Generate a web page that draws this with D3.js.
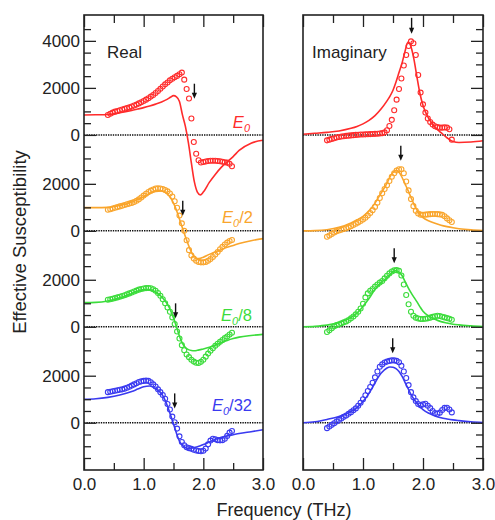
<!DOCTYPE html>
<html><head><meta charset="utf-8">
<script src="https://cdn.jsdelivr.net/npm/d3@7"></script>
<style>
body{margin:0;background:#fff;}
svg{display:block;font-family:"Liberation Sans",Arial,Helvetica,sans-serif;}
</style>
</head><body>
<svg id="c" width="495" height="520"></svg>
<script>
// ---------- DATA ----------
const seriesNames = ["E0", "E0/2", "E0/8", "E0/32"];
const seriesColors = ["#ff2b2b", "#f9a52c", "#3bdc3b", "#3a3af0"];

// model (solid line) frequencies, THz
const fitFreq = [0,0.2,0.4,0.6,0.8,0.9,1.0,1.1,1.2,1.3,1.4,1.45,1.5,1.55,1.6,1.65,1.7,1.75,1.8,1.85,1.9,1.95,2.0,2.1,2.2,2.3,2.4,2.5,2.6,2.8,3.0];
const realFit0 = [850,855,870,940,1040,1100,1160,1230,1310,1400,1520,1600,1670,1620,1420,850,350,-340,-1200,-2000,-2430,-2550,-2430,-2020,-1680,-1380,-1150,-920,-660,-350,-230];
const realFit1 = [990,990,1000,1080,1220,1330,1450,1580,1680,1700,1560,1420,1180,880,500,120,-250,-600,-900,-1100,-1180,-1170,-1120,-1000,-900,-800,-700,-620,-540,-420,-330];
const realFit2 = [1030,1040,1100,1230,1420,1520,1580,1580,1470,1280,950,700,380,0,-400,-700,-880,-970,-1010,-1020,-1000,-970,-940,-870,-780,-680,-580,-500,-440,-370,-320];
const realFit3 = [1000,1020,1080,1180,1330,1430,1530,1560,1450,1230,700,330,-50,-450,-780,-960,-1060,-1090,-1080,-1050,-1020,-980,-930,-820,-710,-620,-560,-510,-460,-380,-300];
const imagFit0 = [30,70,110,170,280,360,470,620,820,1100,1450,1650,1900,2250,2650,3050,3550,3950,3750,3200,2450,1750,1250,680,330,100,-120,-280,-320,-300,-250];
const imagFit1 = [0,10,50,150,340,470,620,850,1180,1600,2030,2300,2480,2580,2500,2280,2000,1720,1420,1130,880,680,560,420,320,240,180,130,90,40,15];
const imagFit2 = [0,20,70,180,400,580,870,1200,1600,1880,2080,2220,2350,2390,2330,2180,1930,1680,1450,1250,1060,850,660,450,320,220,160,110,80,40,10];
const imagFit3 = [0,40,140,270,480,640,900,1250,1700,2100,2330,2370,2360,2300,2180,1980,1720,1460,1200,1000,830,680,560,400,290,210,160,120,90,40,10];

// measured (circles) frequencies, THz
const dataFreq = [0.40,0.44,0.48,0.52,0.56,0.60,0.64,0.68,0.72,0.76,0.80,0.84,0.88,0.92,0.96,1.00,1.04,1.08,1.12,1.16,1.20,1.24,1.28,1.32,1.36,1.40,1.44,1.48,1.52,1.56,1.60,1.64,1.68,1.72,1.76,1.80,1.84,1.88,1.92,1.96,2.00,2.04,2.08,2.12,2.16,2.20,2.24,2.28,2.32,2.36,2.40,2.44,2.48];
const realData0 = [850,900,950,990,1020,1050,1080,1110,1140,1170,1210,1250,1290,1340,1390,1440,1500,1560,1630,1700,1780,1870,1960,2060,2150,2230,2320,2390,2450,2510,2580,2650,2350,1950,1550,700,-300,-800,-1080,-1170,-1150,-1130,-1110,-1100,-1100,-1100,-1110,-1120,-1140,-1160,-1180,-1230,-1330];
const realData1 = [900,920,950,980,1010,1040,1070,1100,1130,1160,1190,1230,1280,1340,1420,1500,1580,1650,1710,1760,1800,1810,1800,1780,1740,1680,1590,1460,1260,980,650,320,0,-400,-820,-1050,-1180,-1270,-1320,-1340,-1340,-1320,-1270,-1200,-1110,-1010,-900,-780,-680,-580,-500,-430,-390];
const realData2 = [1150,1170,1190,1220,1250,1280,1310,1340,1380,1420,1460,1500,1540,1580,1610,1630,1645,1650,1640,1600,1530,1440,1320,1170,1000,820,640,400,120,-200,-500,-780,-1000,-1180,-1290,-1400,-1480,-1530,-1540,-1490,-1400,-1270,-1140,-1020,-910,-810,-720,-640,-560,-480,-410,-330,-250];
const realData3 = [1300,1320,1340,1360,1380,1400,1420,1450,1490,1530,1580,1630,1680,1730,1760,1780,1790,1780,1720,1630,1540,1420,1300,1180,1020,800,560,260,20,-250,-580,-820,-960,-1040,-1080,-1110,-1150,-1180,-1200,-1210,-1190,-1100,-920,-760,-680,-700,-740,-750,-740,-680,-560,-420,-350];
const imagData0 = [-230,-200,-170,-140,-110,-90,-70,-55,-40,-30,-20,-10,0,10,15,20,25,30,35,40,45,50,60,75,110,200,380,640,1050,1500,1950,2400,2950,3400,3780,3980,3900,3400,2550,1800,1300,950,700,550,440,370,330,310,310,320,310,240,-200];
const imagData1 = [-250,-200,-130,-70,-20,20,50,80,110,150,200,250,300,360,420,480,560,650,760,880,1020,1200,1400,1600,1780,1940,2120,2300,2450,2570,2620,2620,2450,2100,1720,1350,1050,850,740,690,680,690,700,710,720,720,710,700,680,620,530,450,380];
const imagData2 = [-220,-150,-60,20,70,110,150,190,230,290,360,440,530,640,780,980,1250,1420,1530,1610,1710,1800,1880,1950,2060,2170,2270,2350,2400,2410,2380,2180,1800,1350,960,640,470,390,350,330,330,340,360,390,420,450,470,460,430,400,370,340,300];
const imagData3 = [-230,-160,-90,-20,50,120,180,250,310,380,450,530,610,720,850,1000,1170,1350,1520,1700,1930,2180,2380,2480,2560,2600,2630,2650,2650,2630,2570,2420,2180,1900,1600,1300,1080,920,800,740,780,810,720,620,500,410,380,430,540,630,640,560,440];

// resonance arrows (frequency, value at arrow tip)
const arrowRealFreq = [1.85, 1.655, 1.535, 1.52];
const arrowRealTip  = [1540, 640, 360, 610];
const arrowImagFreq = [1.81, 1.63, 1.52, 1.495];
const arrowImagTip  = [4300, 2985, 2700, 2950];

// axis ticks
const xTicksMajor = [0, 1, 2, 3];
const xTicksMinor = [0.5, 1.5, 2.5];
const yLabelsTop = [0, 2000, 4000];
const yLabelsOther = [0, 2000];
const yMajorTop = [0, 2000, 4000];
const yMajorOther = [0, 2000];
const yMinorTop = [-1500,-1000,-500,500,1000,1500,2500,3000,3500,4500];
const yMinorOther = [-1500,-1000,-500,500,1000,1500];
const panelOffset = 4080;

// ---------- DRAW ----------
const realFits = [realFit0, realFit1, realFit2, realFit3];
const imagFits = [imagFit0, imagFit1, imagFit2, imagFit3];
const realDatas = [realData0, realData1, realData2, realData3];
const imagDatas = [imagData0, imagData1, imagData2, imagData3];

const svg = d3.select("#c");
const yTop = 15, yBottom = 470;
const xL = d3.scaleLinear().domain([0, 3]).range([84, 263]);
const xR = d3.scaleLinear().domain([0, 3]).range([303, 483]);
const y = d3.scaleLinear().domain([-14250, 5100]).range([yBottom, yTop]);
const off = i => -i * panelOffset;
const ink = "#222";

let majG = [], minG = [], labG = [], labText = new Map();
for (let i = 0; i < 4; i++) {
  (i === 0 ? yMajorTop : yMajorOther).forEach(v => majG.push(v + off(i)));
  (i === 0 ? yMinorTop : yMinorOther).forEach(v => minG.push(v + off(i)));
  (i === 0 ? yLabelsTop : yLabelsOther).forEach(v => { labG.push(v + off(i)); labText.set(v + off(i), String(v)); });
}

function strip(g) { g.select(".domain").remove(); g.selectAll("line").attr("stroke", ink).attr("stroke-width", 1.3); }

// zero lines
[xL, xR].forEach(xs => {
  for (let i = 0; i < 4; i++) {
    svg.append("line")
      .attr("x1", xs.range()[0]).attr("x2", xs.range()[1])
      .attr("y1", y(off(i))).attr("y2", y(off(i)))
      .attr("stroke", "#111").attr("stroke-width", 1.5)
      .attr("stroke-dasharray", "1.4,1");
  }
});

// curves and circles
function drawSet(xs, fits, datas) {
  for (let i = 0; i < 4; i++) {
    const c = seriesColors[i];
    const line = d3.line().x(d => xs(d[0])).y(d => y(d[1] + off(i))).curve(d3.curveMonotoneX);
    svg.append("path").datum(fitFreq.map((f, k) => [f, fits[i][k]]))
      .attr("d", line).attr("fill", "none").attr("stroke", c).attr("stroke-width", 1.6);
    svg.append("g").selectAll("circle").data(dataFreq.map((f, k) => [f, datas[i][k]]))
      .join("circle")
      .attr("cx", d => xs(d[0])).attr("cy", d => y(d[1] + off(i))).attr("r", 2.5)
      .attr("fill", "none").attr("stroke", c).attr("stroke-width", 1.1);
  }
}
drawSet(xL, realFits, realDatas);
drawSet(xR, imagFits, imagDatas);

// arrows
function arrow(xs, f, v, i, len) {
  const ax = xs(f), ty = y(v + off(i));
  svg.append("line").attr("x1", ax).attr("x2", ax).attr("y1", ty - len).attr("y2", ty - 5)
    .attr("stroke", "#111").attr("stroke-width", 1.4);
  svg.append("path").attr("d", `M${ax - 2.6},${ty - 6}L${ax + 2.6},${ty - 6}L${ax},${ty}Z`).attr("fill", "#111");
}
for (let i = 0; i < 4; i++) {
  arrow(xL, arrowRealFreq[i], arrowRealTip[i], i, 15);
  arrow(xR, arrowImagFreq[i], arrowImagTip[i], i, i === 0 ? 16 : 15);
}

// axes: bottom & top (ticks inward)
[xL, xR].forEach(xs => {
  svg.append("g").attr("transform", `translate(0,${yBottom})`)
    .call(d3.axisTop(xs).tickValues(xTicksMajor).tickSize(12).tickFormat("")).call(strip);
  svg.append("g").attr("transform", `translate(0,${yBottom})`)
    .call(d3.axisTop(xs).tickValues(xTicksMinor).tickSize(7).tickFormat("")).call(strip);
  svg.append("g").attr("transform", `translate(0,${yTop})`)
    .call(d3.axisBottom(xs).tickValues(xTicksMajor).tickSize(12).tickFormat("")).call(strip);
  svg.append("g").attr("transform", `translate(0,${yTop})`)
    .call(d3.axisBottom(xs).tickValues(xTicksMinor).tickSize(8).tickFormat("")).call(strip);
  const lab = svg.append("g").attr("transform", `translate(0,${yBottom})`)
    .call(d3.axisBottom(xs).tickValues(xTicksMajor).tickSize(0).tickPadding(8).tickFormat(d3.format(".1f")));
  lab.select(".domain").remove();
  lab.selectAll("text").attr("font-size", 17).attr("fill", ink);
});

// left axis of real panel (ticks inward)
svg.append("g").attr("transform", `translate(${xL.range()[0]},0)`)
  .call(d3.axisRight(y).tickValues(majG).tickSize(12).tickFormat("")).call(strip);
svg.append("g").attr("transform", `translate(${xL.range()[0]},0)`)
  .call(d3.axisRight(y).tickValues(minG).tickSize(7).tickFormat("")).call(strip);
const ylab = svg.append("g").attr("transform", `translate(${xL.range()[0]},0)`)
  .call(d3.axisLeft(y).tickValues(labG).tickSize(0).tickPadding(4).tickFormat(d => labText.get(d)));
ylab.select(".domain").remove();
ylab.selectAll("text").attr("font-size", 17).attr("fill", ink);

// right axis of imaginary panel (ticks inward)
svg.append("g").attr("transform", `translate(${xR.range()[1]},0)`)
  .call(d3.axisLeft(y).tickValues(majG).tickSize(12).tickFormat("")).call(strip);
svg.append("g").attr("transform", `translate(${xR.range()[1]},0)`)
  .call(d3.axisLeft(y).tickValues(minG).tickSize(7).tickFormat("")).call(strip);

// frames
[xL, xR].forEach(xs => {
  svg.append("rect").attr("x", xs.range()[0]).attr("y", yTop)
    .attr("width", xs.range()[1] - xs.range()[0]).attr("height", yBottom - yTop)
    .attr("fill", "none").attr("stroke", ink).attr("stroke-width", 1.6);
});
svg.selectAll("g").attr("font-family", null);

// panel titles
svg.append("text").attr("x", 107).attr("y", 58).attr("font-size", 17).attr("fill", ink).text("Real");
svg.append("text").attr("x", 312).attr("y", 58).attr("font-size", 17).attr("fill", ink).text("Imaginary");

// field labels
const labelRight = [250, 253, 252, 252];
const labelBase = [128, 223, 321, 411];
for (let i = 0; i < 4; i++) {
  const t = svg.append("text").attr("x", labelRight[i]).attr("y", labelBase[i])
    .attr("text-anchor", "end").attr("fill", seriesColors[i]).attr("font-size", 16.5);
  t.append("tspan").attr("font-style", "italic").text("E");
  t.append("tspan").attr("font-style", "italic").attr("font-size", 11).attr("dy", 4).text("0");
  const rest = seriesNames[i].slice(2);
  if (rest) t.append("tspan").attr("dy", -4).text(rest);
}

// axis titles
svg.append("text").attr("x", 284).attr("y", 516).attr("text-anchor", "middle")
  .attr("font-size", 18).attr("fill", ink).text("Frequency (THz)");
svg.append("text").attr("transform", "translate(26,242) rotate(-90)").attr("text-anchor", "middle")
  .attr("font-size", 18.5).attr("fill", ink).text("Effective Susceptibility");
</script>
</body></html>
